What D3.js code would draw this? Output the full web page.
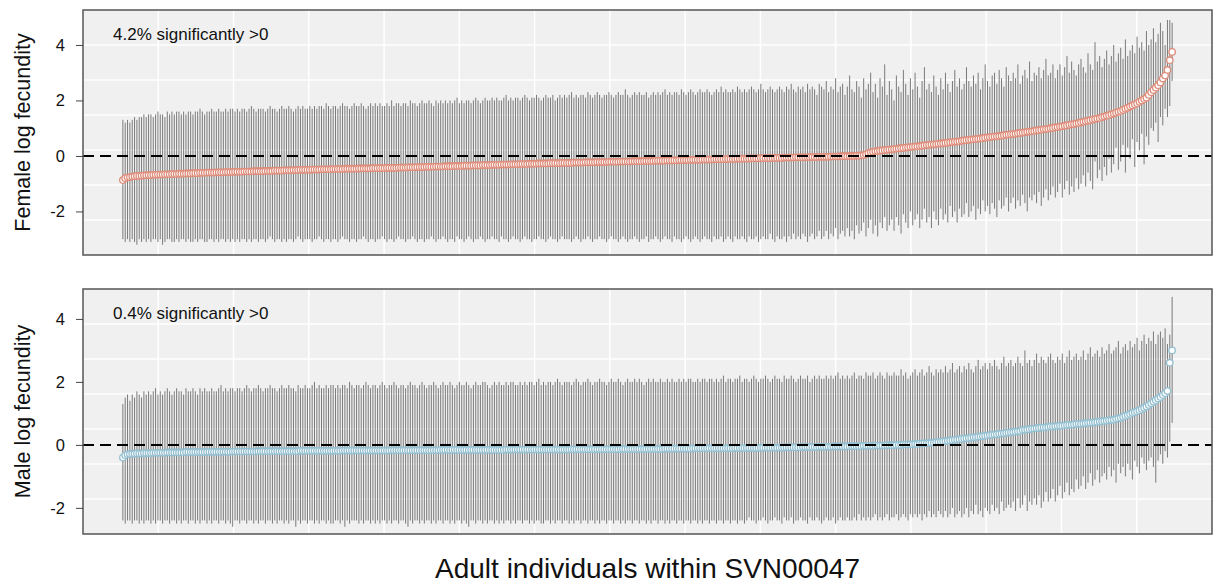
<!DOCTYPE html>
<html>
<head>
<meta charset="utf-8">
<script src="https://cdnjs.cloudflare.com/ajax/libs/d3/7.8.5/d3.min.js"></script>
<style>
body { margin: 0; background: #ffffff; }
text { font-family: "Liberation Sans", Arial, sans-serif; fill: #111; }
</style>
</head>
<body>
<script>
//posterior means and 95% intervals, one value per adult, sorted by mean
var femaleMean = [
-0.87,-0.80,-0.77,-0.76,-0.74,-0.73,-0.72,-0.72,-0.71,-0.70,
-0.70,-0.69,-0.69,-0.68,-0.68,-0.67,-0.67,-0.67,-0.66,-0.66,
-0.66,-0.65,-0.65,-0.65,-0.64,-0.64,-0.64,-0.63,-0.63,-0.63,
-0.62,-0.62,-0.62,-0.61,-0.61,-0.61,-0.60,-0.60,-0.60,-0.60,
-0.59,-0.59,-0.59,-0.59,-0.58,-0.58,-0.58,-0.58,-0.57,-0.57,
-0.57,-0.57,-0.56,-0.56,-0.56,-0.56,-0.55,-0.55,-0.55,-0.55,
-0.55,-0.54,-0.54,-0.54,-0.54,-0.53,-0.53,-0.53,-0.53,-0.52,
-0.52,-0.52,-0.52,-0.51,-0.51,-0.51,-0.50,-0.50,-0.50,-0.50,
-0.50,-0.49,-0.49,-0.49,-0.49,-0.48,-0.48,-0.48,-0.48,-0.48,
-0.47,-0.47,-0.47,-0.47,-0.47,-0.46,-0.46,-0.46,-0.46,-0.46,
-0.46,-0.45,-0.45,-0.45,-0.45,-0.45,-0.45,-0.44,-0.44,-0.44,
-0.44,-0.44,-0.44,-0.43,-0.43,-0.43,-0.43,-0.43,-0.42,-0.42,
-0.42,-0.42,-0.41,-0.41,-0.41,-0.41,-0.40,-0.40,-0.40,-0.40,
-0.39,-0.39,-0.39,-0.39,-0.38,-0.38,-0.38,-0.38,-0.37,-0.37,
-0.37,-0.37,-0.36,-0.36,-0.36,-0.36,-0.35,-0.35,-0.35,-0.35,
-0.34,-0.34,-0.34,-0.34,-0.33,-0.33,-0.33,-0.33,-0.32,-0.32,
-0.32,-0.32,-0.31,-0.31,-0.31,-0.31,-0.30,-0.30,-0.30,-0.30,
-0.29,-0.29,-0.29,-0.29,-0.28,-0.28,-0.28,-0.28,-0.27,-0.27,
-0.27,-0.27,-0.27,-0.26,-0.26,-0.26,-0.26,-0.26,-0.25,-0.25,
-0.25,-0.25,-0.25,-0.24,-0.24,-0.24,-0.24,-0.24,-0.23,-0.23,
-0.23,-0.23,-0.23,-0.22,-0.22,-0.22,-0.22,-0.22,-0.21,-0.21,
-0.21,-0.21,-0.21,-0.20,-0.20,-0.20,-0.20,-0.20,-0.19,-0.19,
-0.19,-0.19,-0.19,-0.18,-0.18,-0.18,-0.18,-0.18,-0.17,-0.17,
-0.17,-0.17,-0.17,-0.16,-0.16,-0.16,-0.16,-0.16,-0.15,-0.15,
-0.15,-0.15,-0.15,-0.14,-0.14,-0.14,-0.14,-0.14,-0.13,-0.13,
-0.13,-0.13,-0.13,-0.12,-0.12,-0.12,-0.12,-0.12,-0.11,-0.11,
-0.11,-0.11,-0.11,-0.10,-0.10,-0.10,-0.10,-0.10,-0.09,-0.09,
-0.09,-0.09,-0.09,-0.08,-0.08,-0.08,-0.08,-0.08,-0.07,-0.07,
-0.07,-0.07,-0.07,-0.06,-0.06,-0.06,-0.06,-0.06,-0.05,-0.05,
-0.05,-0.05,-0.05,-0.04,-0.04,-0.04,-0.04,-0.04,-0.03,-0.03,
-0.03,-0.03,-0.03,-0.02,-0.02,-0.02,-0.02,-0.01,-0.01,-0.01,
-0.01,0.00,0.00,0.00,0.01,0.01,0.02,0.03,0.06,0.10,
0.13,0.15,0.17,0.18,0.19,0.20,0.21,0.22,0.23,0.24,
0.25,0.26,0.27,0.28,0.29,0.30,0.31,0.32,0.33,0.34,
0.35,0.36,0.37,0.38,0.39,0.40,0.41,0.42,0.43,0.44,
0.45,0.46,0.47,0.48,0.49,0.50,0.51,0.52,0.53,0.55,
0.56,0.57,0.58,0.59,0.60,0.61,0.62,0.63,0.64,0.66,
0.67,0.68,0.69,0.70,0.71,0.72,0.73,0.75,0.76,0.77,
0.78,0.79,0.80,0.82,0.83,0.84,0.85,0.87,0.88,0.89,
0.90,0.92,0.93,0.94,0.96,0.97,0.98,1.00,1.01,1.03,
1.04,1.06,1.07,1.09,1.10,1.12,1.14,1.15,1.17,1.19,
1.21,1.23,1.25,1.27,1.29,1.31,1.33,1.35,1.37,1.40,
1.42,1.45,1.47,1.50,1.53,1.56,1.59,1.62,1.66,1.70,
1.74,1.78,1.82,1.86,1.90,1.95,2.00,2.05,2.10,2.20,
2.30,2.38,2.46,2.55,2.65,2.79,2.90,3.10,3.45,3.75];

var femaleLower = [
-3.0,-3.1,-3.0,-3.1,-3.0,-3.1,-3.2,-3.0,-3.1,-3.0,
-3.1,-3.0,-3.1,-3.0,-3.0,-3.1,-3.0,-3.2,-3.1,-3.0,
-3.0,-3.1,-3.1,-3.0,-3.1,-3.0,-3.0,-3.1,-3.0,-3.1,
-3.1,-3.0,-3.1,-3.0,-3.0,-3.1,-3.1,-3.0,-3.0,-3.1,
-3.0,-3.1,-3.0,-3.0,-3.1,-3.0,-3.1,-3.0,-3.1,-3.0,
-3.1,-3.0,-3.0,-3.1,-3.0,-3.1,-3.0,-3.0,-3.1,-3.0,
-3.0,-3.1,-3.0,-2.9,-3.0,-3.1,-3.0,-3.0,-3.1,-3.0,
-3.1,-3.0,-3.0,-3.1,-3.0,-2.9,-3.0,-3.1,-3.0,-3.0,
-3.0,-3.1,-3.0,-3.0,-2.9,-3.0,-3.1,-3.0,-3.0,-3.1,
-3.0,-3.0,-3.1,-3.0,-2.9,-3.0,-3.0,-3.1,-3.0,-3.0,
-3.1,-3.0,-3.0,-2.9,-3.0,-3.1,-3.0,-3.0,-3.1,-3.0,
-3.0,-2.9,-3.0,-3.1,-3.0,-3.0,-3.1,-3.0,-2.9,-3.0,
-3.0,-3.1,-3.0,-3.0,-2.9,-3.0,-3.1,-3.0,-3.0,-3.1,
-3.0,-3.0,-2.9,-3.0,-3.1,-3.0,-3.0,-2.9,-3.0,-3.1,
-3.0,-3.0,-3.1,-2.9,-3.0,-3.0,-3.1,-3.0,-2.9,-3.0,
-3.1,-3.0,-3.0,-2.9,-3.0,-3.1,-3.0,-3.0,-2.9,-3.0,
-3.0,-3.1,-2.9,-3.0,-3.0,-3.1,-3.0,-2.9,-3.0,-3.0,
-3.1,-3.0,-2.9,-3.0,-3.0,-3.1,-3.0,-3.0,-2.9,-3.0,
-3.0,-3.1,-3.0,-2.9,-3.0,-3.0,-3.1,-3.0,-2.9,-3.0,
-3.0,-3.0,-3.1,-3.0,-2.9,-3.0,-3.1,-3.0,-3.0,-2.9,
-3.0,-3.1,-3.0,-3.0,-2.9,-3.0,-3.0,-3.1,-3.0,-2.9,
-3.0,-3.0,-3.1,-3.0,-2.9,-3.0,-3.1,-3.0,-3.0,-2.9,
-3.0,-3.1,-3.0,-3.0,-2.9,-3.1,-3.0,-3.0,-2.9,-3.0,
-3.1,-3.0,-2.9,-3.0,-3.0,-3.1,-2.9,-3.0,-3.0,-3.1,
-3.0,-2.9,-3.0,-3.1,-3.0,-2.9,-3.0,-3.1,-3.0,-2.9,
-3.0,-3.0,-3.1,-2.9,-3.0,-3.0,-2.9,-3.1,-3.0,-2.9,
-3.0,-3.1,-2.9,-3.0,-3.0,-2.9,-3.0,-3.1,-2.9,-3.0,
-3.0,-2.9,-3.1,-3.0,-2.9,-3.0,-3.0,-2.8,-3.0,-3.1,
-2.9,-3.0,-3.0,-2.9,-3.1,-2.9,-3.0,-2.8,-3.0,-2.9,
-3.0,-2.8,-2.9,-3.1,-2.9,-2.8,-3.0,-2.9,-2.7,-3.0,
-2.9,-2.7,-3.0,-2.8,-2.9,-2.6,-3.0,-2.8,-2.7,-2.9,
-2.6,-2.9,-2.7,-3.0,-2.5,-2.8,-2.7,-2.4,-2.9,-2.6,
-2.3,-2.8,-2.5,-2.9,-2.4,-2.6,-2.2,-2.7,-2.5,-2.3,
-2.7,-2.2,-2.5,-2.8,-2.1,-2.4,-2.6,-2.0,-2.5,-2.3,
-2.1,-2.6,-2.3,-1.9,-2.4,-2.2,-2.6,-2.0,-2.3,-2.5,
-1.9,-2.3,-2.1,-2.4,-1.8,-2.2,-2.0,-2.4,-1.9,-2.2,
-2.1,-1.7,-2.2,-2.0,-1.8,-2.3,-1.9,-2.1,-1.6,-2.0,
-1.8,-2.1,-1.7,-1.9,-2.2,-1.6,-1.9,-1.8,-1.5,-2.0,
-1.7,-1.5,-1.9,-1.6,-1.8,-1.4,-1.7,-2.0,-1.5,-1.6,
-1.4,-1.7,-1.3,-1.8,-1.5,-1.2,-1.6,-1.4,-1.1,-1.5,
-1.3,-1.0,-1.5,-1.2,-0.9,-1.4,-1.1,-1.3,-0.8,-1.2,
-1.0,-0.7,-1.1,-0.6,-0.9,-1.2,-0.2,-0.8,-0.5,-0.9,
-0.4,-0.7,-0.1,-0.6,-0.3,0.3,-0.5,-0.2,0.4,-0.6,
0.3,-0.1,0.6,-0.4,0.5,0.2,0.8,-0.3,0.7,0.4,
1.0,0.9,1.2,0.5,1.4,1.1,1.7,1.4,1.8,2.7];

var femaleUpper = [
1.3,1.2,1.3,1.2,1.3,1.4,1.3,1.4,1.4,1.5,
1.4,1.5,1.5,1.4,1.5,1.6,1.5,1.5,1.4,1.6,
1.5,1.6,1.5,1.6,1.6,1.5,1.6,1.5,1.6,1.6,
1.5,1.6,1.6,1.7,1.6,1.5,1.6,1.6,1.7,1.6,
1.6,1.7,1.6,1.6,1.7,1.6,1.7,1.7,1.6,1.7,
1.6,1.7,1.7,1.6,1.7,1.8,1.7,1.6,1.7,1.7,
1.7,1.6,1.7,1.8,1.7,1.7,1.6,1.7,1.8,1.7,
1.7,1.8,1.7,1.6,1.7,1.8,1.7,1.8,1.7,1.7,
1.8,1.7,1.8,1.7,1.8,1.8,1.7,1.9,1.8,1.7,
1.8,1.8,1.7,1.8,1.9,1.8,1.8,1.7,1.8,1.9,
1.8,1.8,1.9,1.8,1.7,1.8,1.9,1.8,1.9,1.8,
1.9,1.8,1.8,1.9,1.8,2.0,1.8,1.9,1.9,1.8,
1.9,1.9,1.8,2.0,1.9,1.9,1.8,1.9,2.0,1.9,
1.9,2.0,1.9,1.8,2.0,1.9,2.0,1.9,2.0,1.9,
2.0,1.9,2.0,2.1,1.9,2.0,1.9,2.0,2.0,1.9,
2.0,2.1,2.0,1.9,2.0,2.1,2.0,2.0,2.1,2.0,
2.1,2.0,2.0,2.1,2.2,2.0,2.1,2.0,2.1,2.1,
2.0,2.1,2.2,2.1,2.0,2.1,2.1,2.2,2.1,2.0,
2.1,2.2,2.1,2.1,2.2,2.0,2.1,2.2,2.1,2.2,
2.1,2.2,2.3,2.1,2.2,2.1,2.2,2.2,2.1,2.3,
2.2,2.1,2.2,2.3,2.2,2.1,2.2,2.2,2.3,2.2,
2.1,2.2,2.3,2.2,2.2,2.4,2.2,2.1,2.2,2.3,
2.2,2.3,2.2,2.2,2.3,2.1,2.2,2.3,2.2,2.3,
2.2,2.3,2.4,2.2,2.3,2.2,2.3,2.3,2.2,2.4,
2.3,2.2,2.3,2.4,2.3,2.2,2.3,2.4,2.3,2.3,
2.4,2.3,2.2,2.3,2.4,2.3,2.5,2.3,2.4,2.3,
2.3,2.4,2.3,2.5,2.4,2.3,2.4,2.3,2.4,2.5,
2.4,2.3,2.4,2.6,2.4,2.3,2.4,2.5,2.4,2.3,
2.4,2.5,2.4,2.3,2.5,2.4,2.6,2.4,2.3,2.5,
2.4,2.5,2.3,2.6,2.4,2.5,2.4,2.2,2.6,2.5,
2.4,2.7,2.3,2.5,2.4,2.8,2.3,2.5,2.6,2.2,
2.5,2.9,2.4,2.3,2.7,2.5,2.1,2.8,2.4,2.6,
3.0,2.3,2.6,2.1,2.8,2.5,3.3,2.2,2.7,2.4,
2.0,2.9,2.5,2.3,3.1,2.6,2.2,2.8,2.4,3.0,
2.5,2.1,2.7,3.2,2.4,2.6,2.3,2.9,2.5,2.2,
2.8,2.4,3.0,2.6,2.3,2.7,3.1,2.5,2.8,2.4,
2.6,3.2,2.7,2.5,2.9,2.6,3.0,2.4,2.8,3.3,
2.7,2.5,2.9,3.0,2.6,3.1,2.8,2.5,3.2,2.9,
2.7,3.0,2.8,3.3,2.6,2.9,3.1,2.8,3.4,2.7,
3.0,2.9,3.2,2.8,3.1,3.5,2.9,3.0,3.3,2.8,
3.1,3.3,2.9,3.2,3.6,3.0,3.4,3.1,2.9,3.3,
3.5,3.2,3.0,3.7,3.3,3.1,4.1,3.4,3.6,3.2,
3.5,3.8,3.3,3.6,4.0,3.4,3.7,3.9,3.5,4.2,
3.6,3.8,4.0,3.7,4.3,3.9,4.1,3.8,4.5,4.0,
4.2,4.6,4.1,4.4,4.8,4.5,4.0,4.9,4.9,4.8];

var maleMean = [
-0.40,-0.33,-0.30,-0.29,-0.28,-0.28,-0.27,-0.27,-0.27,-0.26,
-0.26,-0.26,-0.26,-0.25,-0.25,-0.25,-0.25,-0.25,-0.25,-0.24,
-0.24,-0.24,-0.24,-0.24,-0.24,-0.24,-0.24,-0.23,-0.23,-0.23,
-0.23,-0.23,-0.23,-0.23,-0.23,-0.23,-0.22,-0.22,-0.22,-0.22,
-0.22,-0.22,-0.22,-0.22,-0.22,-0.22,-0.22,-0.21,-0.21,-0.21,
-0.21,-0.21,-0.21,-0.21,-0.21,-0.21,-0.21,-0.21,-0.20,-0.20,
-0.20,-0.20,-0.20,-0.20,-0.20,-0.20,-0.20,-0.20,-0.20,-0.20,
-0.20,-0.20,-0.20,-0.20,-0.20,-0.20,-0.19,-0.19,-0.19,-0.19,
-0.19,-0.19,-0.19,-0.19,-0.19,-0.19,-0.19,-0.19,-0.19,-0.19,
-0.19,-0.19,-0.19,-0.19,-0.18,-0.18,-0.18,-0.18,-0.18,-0.18,
-0.18,-0.18,-0.18,-0.18,-0.18,-0.18,-0.18,-0.18,-0.18,-0.18,
-0.18,-0.18,-0.18,-0.18,-0.18,-0.17,-0.17,-0.17,-0.17,-0.17,
-0.17,-0.17,-0.17,-0.17,-0.17,-0.17,-0.17,-0.17,-0.17,-0.17,
-0.17,-0.17,-0.17,-0.17,-0.17,-0.17,-0.16,-0.16,-0.16,-0.16,
-0.16,-0.16,-0.16,-0.16,-0.16,-0.16,-0.16,-0.16,-0.16,-0.16,
-0.16,-0.16,-0.16,-0.16,-0.16,-0.16,-0.16,-0.16,-0.16,-0.16,
-0.16,-0.16,-0.16,-0.16,-0.15,-0.15,-0.15,-0.15,-0.15,-0.15,
-0.15,-0.15,-0.15,-0.15,-0.15,-0.15,-0.15,-0.15,-0.15,-0.15,
-0.15,-0.15,-0.15,-0.15,-0.15,-0.15,-0.15,-0.15,-0.15,-0.15,
-0.15,-0.15,-0.14,-0.14,-0.14,-0.14,-0.14,-0.14,-0.14,-0.14,
-0.14,-0.14,-0.14,-0.14,-0.14,-0.14,-0.14,-0.14,-0.14,-0.14,
-0.14,-0.14,-0.14,-0.13,-0.13,-0.13,-0.13,-0.13,-0.13,-0.13,
-0.13,-0.13,-0.13,-0.13,-0.13,-0.13,-0.13,-0.13,-0.13,-0.13,
-0.13,-0.13,-0.12,-0.12,-0.12,-0.12,-0.12,-0.12,-0.12,-0.12,
-0.12,-0.12,-0.12,-0.12,-0.11,-0.11,-0.11,-0.11,-0.11,-0.11,
-0.11,-0.11,-0.11,-0.11,-0.11,-0.11,-0.11,-0.11,-0.11,-0.11,
-0.11,-0.11,-0.10,-0.10,-0.10,-0.10,-0.10,-0.10,-0.10,-0.10,
-0.10,-0.10,-0.10,-0.09,-0.09,-0.09,-0.09,-0.09,-0.09,-0.09,
-0.09,-0.09,-0.09,-0.08,-0.08,-0.08,-0.08,-0.08,-0.08,-0.08,
-0.08,-0.07,-0.07,-0.07,-0.07,-0.07,-0.07,-0.07,-0.06,-0.06,
-0.06,-0.06,-0.06,-0.06,-0.05,-0.05,-0.05,-0.05,-0.05,-0.05,
-0.05,-0.04,-0.04,-0.04,-0.04,-0.04,-0.04,-0.03,-0.03,-0.03,
-0.03,-0.03,-0.02,-0.02,-0.02,-0.02,-0.02,-0.01,-0.01,-0.01,
-0.01,0.00,0.00,0.00,0.01,0.01,0.01,0.02,0.02,0.03,
0.03,0.04,0.04,0.05,0.05,0.06,0.07,0.07,0.08,0.09,
0.10,0.11,0.12,0.13,0.14,0.15,0.16,0.17,0.18,0.19,
0.20,0.21,0.22,0.23,0.24,0.25,0.26,0.27,0.28,0.29,
0.30,0.31,0.32,0.33,0.34,0.35,0.36,0.37,0.38,0.39,
0.40,0.41,0.42,0.43,0.44,0.47,0.48,0.49,0.50,0.51,
0.52,0.53,0.54,0.55,0.55,0.56,0.57,0.58,0.58,0.59,
0.60,0.61,0.61,0.62,0.63,0.64,0.64,0.65,0.66,0.67,
0.67,0.68,0.69,0.70,0.70,0.71,0.72,0.73,0.74,0.75,
0.76,0.77,0.78,0.79,0.80,0.82,0.84,0.86,0.89,0.92,
0.95,0.98,1.01,1.04,1.07,1.10,1.14,1.18,1.22,1.27,
1.32,1.37,1.42,1.47,1.52,1.58,1.64,1.71,2.61,3.00];

var maleLower = [
-2.4,-2.5,-2.4,-2.4,-2.5,-2.4,-2.4,-2.5,-2.4,-2.5,
-2.4,-2.4,-2.5,-2.4,-2.5,-2.4,-2.4,-2.5,-2.4,-2.4,
-2.5,-2.4,-2.4,-2.5,-2.4,-2.5,-2.4,-2.4,-2.5,-2.4,
-2.4,-2.5,-2.4,-2.5,-2.4,-2.4,-2.5,-2.4,-2.5,-2.4,
-2.4,-2.5,-2.4,-2.4,-2.5,-2.4,-2.5,-2.6,-2.4,-2.4,
-2.5,-2.4,-2.4,-2.5,-2.4,-2.4,-2.5,-2.4,-2.5,-2.4,
-2.4,-2.5,-2.4,-2.4,-2.5,-2.4,-2.5,-2.4,-2.4,-2.5,
-2.4,-2.5,-2.4,-2.4,-2.6,-2.4,-2.5,-2.4,-2.4,-2.5,
-2.4,-2.4,-2.5,-2.4,-2.5,-2.4,-2.4,-2.5,-2.4,-2.5,
-2.5,-2.4,-2.4,-2.5,-2.4,-2.6,-2.4,-2.5,-2.4,-2.4,
-2.4,-2.5,-2.4,-2.5,-2.4,-2.4,-2.5,-2.4,-2.5,-2.4,
-2.5,-2.4,-2.4,-2.5,-2.4,-2.5,-2.4,-2.4,-2.5,-2.4,
-2.4,-2.5,-2.6,-2.4,-2.5,-2.4,-2.4,-2.5,-2.4,-2.5,
-2.4,-2.4,-2.5,-2.4,-2.5,-2.4,-2.4,-2.5,-2.4,-2.4,
-2.5,-2.4,-2.5,-2.4,-2.4,-2.5,-2.4,-2.5,-2.6,-2.4,
-2.4,-2.5,-2.4,-2.4,-2.5,-2.4,-2.5,-2.4,-2.4,-2.5,
-2.4,-2.5,-2.4,-2.5,-2.4,-2.4,-2.5,-2.4,-2.5,-2.4,
-2.4,-2.5,-2.4,-2.4,-2.5,-2.4,-2.5,-2.4,-2.4,-2.5,
-2.5,-2.4,-2.4,-2.5,-2.4,-2.5,-2.4,-2.4,-2.5,-2.4,
-2.4,-2.5,-2.4,-2.5,-2.4,-2.4,-2.5,-2.4,-2.4,-2.5,
-2.4,-2.4,-2.5,-2.4,-2.5,-2.4,-2.4,-2.5,-2.4,-2.4,
-2.5,-2.4,-2.4,-2.5,-2.4,-2.5,-2.4,-2.4,-2.5,-2.4,
-2.4,-2.5,-2.4,-2.4,-2.5,-2.4,-2.5,-2.4,-2.4,-2.5,
-2.4,-2.4,-2.5,-2.4,-2.5,-2.4,-2.4,-2.5,-2.4,-2.4,
-2.5,-2.4,-2.4,-2.5,-2.4,-2.4,-2.5,-2.4,-2.5,-2.4,
-2.4,-2.5,-2.4,-2.4,-2.5,-2.4,-2.4,-2.5,-2.4,-2.4,
-2.5,-2.4,-2.4,-2.5,-2.4,-2.4,-2.5,-2.4,-2.3,-2.4,
-2.4,-2.5,-2.4,-2.4,-2.3,-2.4,-2.5,-2.4,-2.4,-2.3,
-2.4,-2.4,-2.5,-2.3,-2.4,-2.4,-2.3,-2.5,-2.4,-2.4,
-2.3,-2.4,-2.4,-2.5,-2.3,-2.4,-2.4,-2.3,-2.4,-2.5,
-2.4,-2.3,-2.4,-2.4,-2.3,-2.5,-2.4,-2.3,-2.4,-2.4,
-2.3,-2.4,-2.4,-2.3,-2.4,-2.2,-2.4,-2.3,-2.4,-2.3,
-2.4,-2.3,-2.2,-2.4,-2.3,-2.4,-2.3,-2.2,-2.4,-2.3,
-2.3,-2.2,-2.4,-2.3,-2.2,-2.3,-2.4,-2.2,-2.3,-2.2,
-2.3,-2.2,-2.4,-2.2,-2.3,-2.1,-2.3,-2.2,-2.3,-2.1,
-2.2,-2.3,-2.1,-2.3,-2.2,-2.0,-2.3,-2.2,-2.1,-2.3,
-2.2,-2.0,-2.3,-2.1,-2.2,-1.9,-2.2,-2.1,-2.3,-2.0,
-2.1,-2.2,-1.9,-2.1,-2.0,-2.2,-1.8,-2.1,-2.0,-1.9,
-2.0,-1.8,-2.1,-1.7,-2.0,-1.9,-1.6,-2.1,-1.8,-1.9,
-1.7,-1.9,-1.6,-2.0,-1.8,-1.5,-1.8,-1.7,-1.4,-1.8,
-1.6,-1.3,-1.7,-1.5,-1.2,-1.6,-1.4,-1.5,-1.1,-1.4,
-1.3,-1.0,-1.4,-1.2,-0.9,-1.3,-1.1,-0.8,-1.2,-1.0,
-0.9,-1.1,-0.7,-1.0,-0.8,-1.2,-0.6,-0.9,-0.7,-1.0,
-0.6,-0.8,-1.1,-0.5,-0.7,-0.9,-0.4,-0.6,-0.8,-0.5,
-0.4,-0.7,-1.2,-0.5,-0.3,-0.6,-0.2,-0.4,0.1,0.7];

var maleUpper = [
1.3,1.5,1.6,1.4,1.6,1.5,1.7,1.6,1.5,1.7,
1.6,1.7,1.6,1.7,1.8,1.6,1.7,1.6,1.7,1.8,
1.7,1.6,1.7,1.8,1.7,1.7,1.6,1.8,1.7,1.7,
1.8,1.7,1.6,1.8,1.7,1.8,1.7,1.7,1.8,1.7,
1.7,1.8,1.9,1.7,1.8,1.7,1.8,1.8,1.7,1.8,
1.8,1.7,1.8,1.9,1.8,1.7,1.8,1.8,1.9,1.8,
1.7,1.8,1.8,1.9,1.8,1.8,1.7,1.8,1.9,1.8,
1.8,1.9,1.8,1.8,1.7,1.9,1.8,1.8,1.9,1.8,
1.8,1.9,2.0,1.8,1.9,1.8,1.8,1.9,1.8,1.9,
1.9,1.8,1.9,1.8,1.9,1.9,1.8,2.0,1.9,1.8,
1.9,1.9,1.8,1.9,2.0,1.9,1.8,1.9,1.9,1.8,
1.9,2.0,1.9,1.8,1.9,1.9,2.0,1.9,1.8,1.9,
1.9,1.8,1.9,2.0,1.9,1.9,1.8,1.9,2.0,1.9,
1.8,1.9,1.9,2.0,1.9,1.8,1.9,2.0,1.9,1.9,
2.0,1.9,1.8,1.9,2.0,1.9,1.9,2.0,1.9,1.8,
1.9,2.0,1.9,1.9,2.0,2.0,1.9,1.8,1.9,2.0,
1.9,2.0,1.9,1.9,2.0,1.9,2.0,2.0,1.9,1.9,
2.0,1.9,2.0,1.9,2.0,2.0,1.9,2.0,2.1,1.9,
2.0,1.9,2.0,2.0,1.9,2.0,2.1,2.0,1.9,2.0,
2.0,2.0,1.9,2.0,2.1,2.0,1.9,2.0,2.0,2.1,
2.0,1.9,2.0,2.0,2.1,2.0,2.0,1.9,2.0,2.1,
2.0,2.0,2.1,2.0,1.9,2.0,2.1,2.0,2.0,2.1,
2.0,2.1,2.0,1.9,2.0,2.1,2.0,2.1,2.0,2.0,
2.1,2.0,2.0,2.1,2.0,2.1,2.0,2.0,2.1,2.0,
2.1,2.0,2.1,2.1,2.0,2.0,2.1,2.0,2.1,2.1,
2.0,2.1,2.1,2.0,2.1,2.0,2.1,2.2,2.0,2.1,
2.1,2.0,2.1,2.1,2.2,2.0,2.1,2.1,2.0,2.1,
2.2,2.1,2.0,2.1,2.1,2.2,2.1,2.0,2.1,2.2,
2.1,2.1,2.0,2.2,2.1,2.1,2.2,2.1,2.0,2.1,
2.2,2.1,2.1,2.2,2.0,2.1,2.2,2.1,2.2,2.1,
2.1,2.2,2.1,2.2,2.1,2.2,2.3,2.1,2.2,2.1,
2.2,2.1,2.2,2.3,2.1,2.2,2.2,2.1,2.3,2.2,
2.2,2.3,2.1,2.2,2.3,2.2,2.1,2.3,2.2,2.2,
2.3,2.2,2.2,2.4,2.2,2.3,2.1,2.2,2.3,2.4,
2.2,2.3,2.4,2.2,2.3,2.5,2.3,2.2,2.4,2.3,
2.4,2.3,2.5,2.3,2.4,2.6,2.3,2.4,2.5,2.3,
2.5,2.4,2.6,2.4,2.3,2.5,2.7,2.4,2.5,2.6,
2.4,2.6,2.5,2.7,2.5,2.4,2.6,2.8,2.5,2.6,
2.7,2.5,2.6,2.8,2.6,2.5,3.0,2.6,2.7,2.5,
2.7,2.9,2.6,2.8,2.7,2.6,2.8,2.9,2.7,2.6,
2.8,2.7,2.9,2.6,2.8,3.0,2.7,2.8,2.9,2.7,
2.8,3.0,2.7,2.9,3.1,2.8,2.9,3.0,2.8,3.1,
2.9,3.0,3.2,2.9,3.0,3.1,3.3,2.9,3.1,3.2,
3.0,3.3,3.1,3.2,3.4,3.0,3.3,3.5,3.2,3.4,
3.3,3.6,3.2,3.5,3.6,3.4,3.7,3.2,3.5,4.7];

var yTicks = [-2, 0, 2, 4];
var panelNotes = ["4.2% significantly >0", "0.4% significantly >0"];
var yTitles = ["Female log fecundity", "Male log fecundity"];
var xTitle = "Adult individuals within SVN00047";

//svg that holds both panels
var svg = d3.select("body").append("svg")
    .attr("width", 1213)
    .attr("height", 586);

var left = 83, right = 1212;
var n = femaleMean.length;
var pad = 0.038 * (n - 1);

//index of each adult along the x axis
var x = d3.scaleLinear()
    .domain([1 - pad, n + pad])
    .range([left, right]);

//draws one panel: background, grid, error bars, points, zero line, axis
function drawPanel(top, bottom, yLimits, mean, lower, upper, pointColor, note, title) {
    var y = d3.scaleLinear().domain(yLimits).range([bottom, top]);
    var rows = mean.map(function(m, i) {
        return {id: i + 1, mean: m, lo: lower[i], hi: upper[i]};
    });
    var g = svg.append("g");

    g.append("rect")
        .attr("x", left)
        .attr("y", top)
        .attr("width", right - left)
        .attr("height", bottom - top)
        .attr("fill", "#f0f0f0");

    //white grid, 15 columns by 7 rows
    g.selectAll(".vgrid").data(d3.range(1, 15)).enter()
        .append("line")
        .attr("x1", function(d) { return left + d * (right - left) / 15; })
        .attr("x2", function(d) { return left + d * (right - left) / 15; })
        .attr("y1", top)
        .attr("y2", bottom)
        .attr("stroke", "#ffffff")
        .attr("stroke-width", 1.5);

    g.selectAll(".hgrid").data(d3.range(1, 7)).enter()
        .append("line")
        .attr("x1", left)
        .attr("x2", right)
        .attr("y1", function(d) { return top + d * (bottom - top) / 7; })
        .attr("y2", function(d) { return top + d * (bottom - top) / 7; })
        .attr("stroke", "#ffffff")
        .attr("stroke-width", 1.5);

    //credible intervals
    g.selectAll(".bar").data(rows).enter()
        .append("line")
        .attr("x1", function(d) { return x(d.id); })
        .attr("x2", function(d) { return x(d.id); })
        .attr("y1", function(d) { return y(d.lo); })
        .attr("y2", function(d) { return y(d.hi); })
        .attr("stroke", "#7a7a7a")
        .attr("stroke-width", 1);

    //posterior means
    g.selectAll(".pt").data(rows).enter()
        .append("circle")
        .attr("cx", function(d) { return x(d.id); })
        .attr("cy", function(d) { return y(d.mean); })
        .attr("r", 3.2)
        .attr("fill", "#ffffff")
        .attr("stroke", pointColor)
        .attr("stroke-width", 1.3);

    //zero reference line
    g.append("line")
        .attr("x1", left)
        .attr("x2", right)
        .attr("y1", y(0))
        .attr("y2", y(0))
        .attr("stroke", "#000000")
        .attr("stroke-width", 2)
        .attr("stroke-dasharray", "11,6");

    g.append("rect")
        .attr("x", left)
        .attr("y", top)
        .attr("width", right - left)
        .attr("height", bottom - top)
        .attr("fill", "none")
        .attr("stroke", "#555555")
        .attr("stroke-width", 1.5);

    //plain hyphen for negative ticks
    var axis = g.append("g")
        .attr("transform", "translate(" + left + ",0)")
        .call(d3.axisLeft(y).tickValues(yTicks).tickSize(7).tickPadding(11)
            .tickFormat(function(d) { return String(d); }));
    axis.select(".domain").remove();
    axis.selectAll("line").attr("stroke", "#444444");
    axis.selectAll("text")
        .attr("font-size", 16.5)
        .attr("font-family", "Liberation Sans, Arial, sans-serif")
        .attr("fill", "#111111");

    g.append("text")
        .text(note)
        .attr("x", left + 30)
        .attr("y", top + 30)
        .attr("font-size", 17);

    g.append("text")
        .text(title)
        .attr("text-anchor", "middle")
        .attr("font-size", 21.5)
        .attr("transform", "translate(29.5," + ((top + bottom) / 2) + ") rotate(-90)");
}

drawPanel(10, 255, [-3.57, 5.26], femaleMean, femaleLower, femaleUpper, "#de8c7a", panelNotes[0], yTitles[0]);
drawPanel(289, 534, [-2.83, 4.95], maleMean, maleLower, maleUpper, "#93bfd0", panelNotes[1], yTitles[1]);

//shared x axis title
svg.append("text")
    .text(xTitle)
    .attr("x", (left + right) / 2)
    .attr("y", 578)
    .attr("text-anchor", "middle")
    .attr("font-size", 28);
</script>
</body>
</html>
